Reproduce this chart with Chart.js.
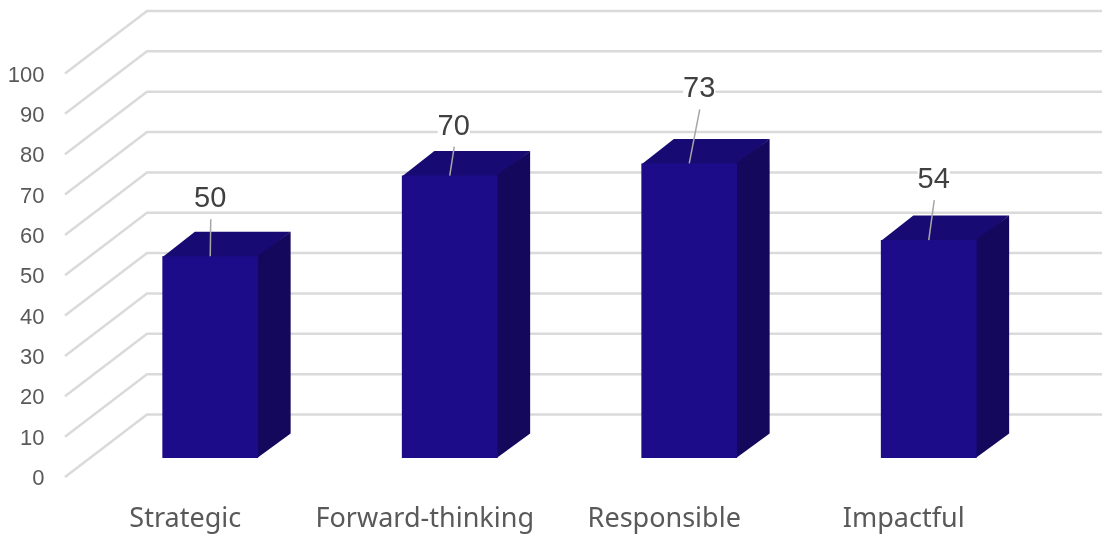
<!DOCTYPE html>
<html>
<head>
<meta charset="utf-8">
<script src="https://cdn.jsdelivr.net/npm/chart.js@4"></script>
<style>
    html, body { margin: 0; padding: 0; background: #fff; }
    canvas { display: block; }
</style>
</head>
<body>
<canvas id="chart" width="1102" height="537"></canvas>
<script>
const categories = ['Strategic', 'Forward-thinking', 'Responsible', 'Impactful'];
const scores = [50, 70, 73, 54];

const color_front = '#1c0c8a';
const color_top = '#170a72';
const color_side = '#13085c';
const color_grid = '#dadada';

// pseudo 3d box settings, all in pixels
const wallDepth = { x: 82, y: 62.5 };
const barDepth = { x: 32.5, y: 24.5 };
const barLift = 19;
const labelNudge = [[0, -60], [4, -52], [10, -77], [5, -63]];

const wallPlugin = {
    id: 'wall',
    beforeDatasetsDraw(chart) {
        const { ctx, scales: { y } } = chart;
        ctx.save();
        ctx.strokeStyle = color_grid;
        ctx.lineWidth = 2.5;
        y.ticks.forEach((tick) => {
            const py = y.getPixelForValue(tick.value);
            ctx.beginPath();
            ctx.moveTo(65, py);
            ctx.lineTo(65 + wallDepth.x, py - wallDepth.y);
            ctx.lineTo(chart.width, py - wallDepth.y);
            ctx.stroke();
        });
        ctx.restore();
    },
    // top and side go in first so the library's front face covers the seam
    beforeDatasetDraw(chart) {
        const { ctx } = chart;
        chart.getDatasetMeta(0).data.forEach((bar) => {
            const left = bar.x - bar.width / 2;
            const right = bar.x + bar.width / 2;
            const top = bar.y - barLift;
            const bottom = bar.base - barLift;

            ctx.fillStyle = color_top;
            ctx.beginPath();
            ctx.moveTo(left, top + 1);
            ctx.lineTo(left + barDepth.x, top - barDepth.y);
            ctx.lineTo(right + barDepth.x, top - barDepth.y);
            ctx.lineTo(right, top + 1);
            ctx.closePath();
            ctx.fill();

            ctx.fillStyle = color_side;
            ctx.beginPath();
            ctx.moveTo(right - 1, top);
            ctx.lineTo(right + barDepth.x, top - barDepth.y);
            ctx.lineTo(right + barDepth.x, bottom - barDepth.y);
            ctx.lineTo(right - 1, bottom);
            ctx.closePath();
            ctx.fill();
        });
        // front faces are the library's own bars, moved up off the front edge of the floor
        ctx.save();
        ctx.translate(0, -barLift);
    },
    afterDatasetDraw(chart) {
        chart.ctx.restore();
    },
    afterDatasetsDraw(chart) {
        const { ctx } = chart;
        const bars = chart.getDatasetMeta(0).data;
        ctx.save();
        bars.forEach((bar, i) => {
            const top = bar.y - barLift;

            // value label with leader line
            const lx = bar.x + labelNudge[i][0];
            const ly = top + labelNudge[i][1];
            const text = String(scores[i]);
            ctx.font = '29px "Liberation Sans"';
            ctx.textAlign = 'center';
            ctx.textBaseline = 'middle';
            const w = ctx.measureText(text).width;
            ctx.fillStyle = '#fff';
            ctx.fillRect(lx - w / 2, ly - 11 + 3, w, 22);
            ctx.fillStyle = '#404040';
            ctx.fillText(text, lx, ly + 3);

            ctx.strokeStyle = '#a6a6a6';
            ctx.lineWidth = 1.5;
            ctx.beginPath();
            ctx.moveTo(lx + 0.5, ly + 23);
            ctx.lineTo(bar.x, top);
            ctx.stroke();
        });
        ctx.restore();
    },
};

new Chart(document.getElementById('chart'), {
    type: 'bar',
    data: {
        labels: categories,
        datasets: [{
            data: scores,
            backgroundColor: color_front,
            barPercentage: 0.4,
            categoryPercentage: 1,
        }],
    },
    options: {
        responsive: false,
        animation: false,
        layout: { padding: { top: 73.5, right: 53.5 } },
        plugins: { legend: { display: false }, tooltip: { enabled: false } },
        scales: {
            x: {
                grid: { display: false, drawTicks: false },
                border: { display: false },
                afterFit: (scale) => { scale.height = 60; },
                ticks: {
                    color: '#595959',
                    font: { family: '"Noto Sans"', size: 27 },
                    padding: 26,
                    labelOffset: -25,
                    maxRotation: 0,
                    autoSkip: false,
                },
            },
            y: {
                min: 0,
                max: 100,
                grid: { display: false, drawTicks: false },
                border: { display: false },
                afterFit: (scale) => { scale.width = 90.5; },
                ticks: {
                    stepSize: 10,
                    color: '#595959',
                    font: { family: '"Liberation Sans"', size: 22 },
                    padding: 46,
                    labelOffset: 2,
                },
            },
        },
    },
    plugins: [wallPlugin],
});
</script>
</body>
</html>
